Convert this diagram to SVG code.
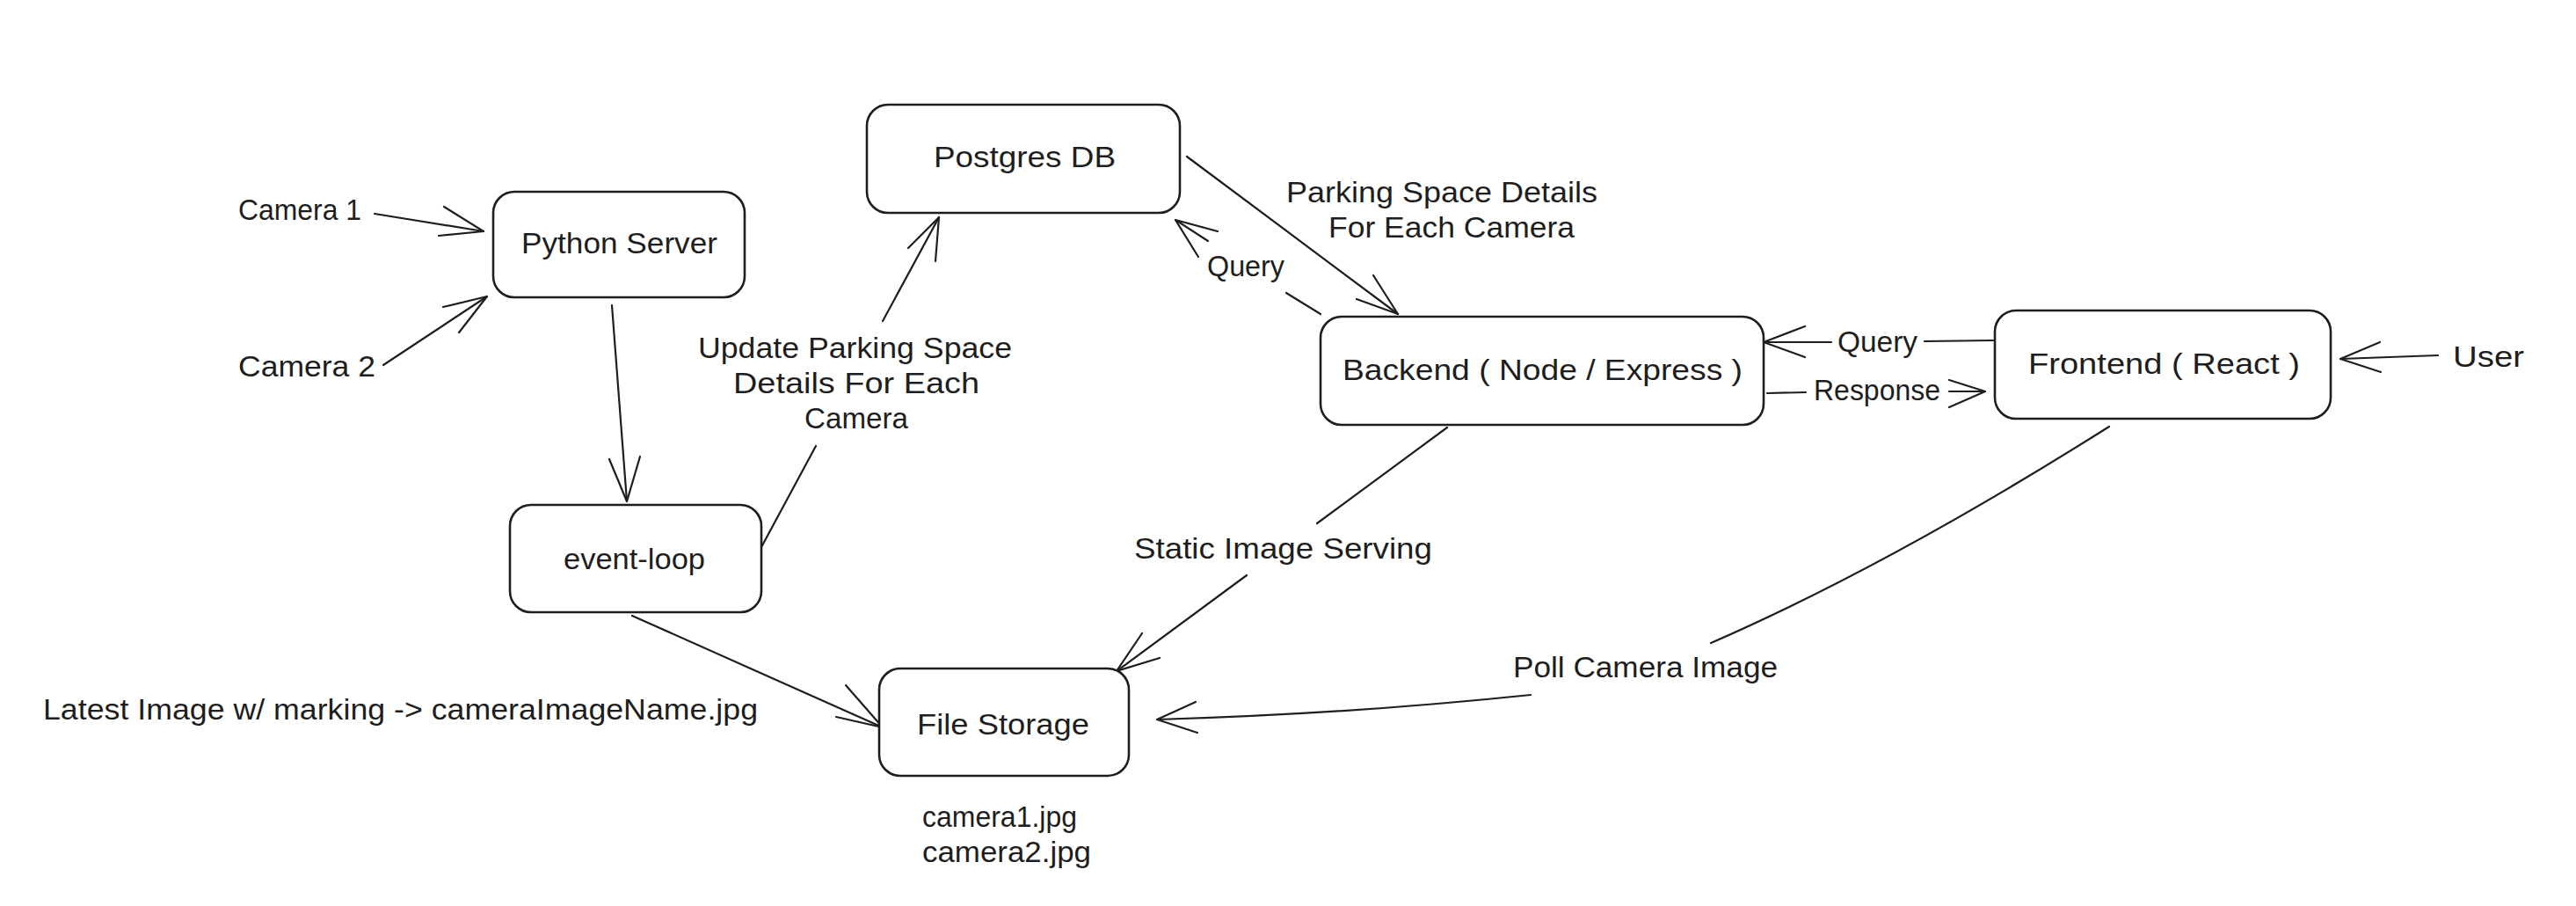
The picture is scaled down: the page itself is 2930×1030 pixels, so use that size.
<svg xmlns="http://www.w3.org/2000/svg" width="2930" height="1030" viewBox="0 0 2930 1030">
<style>
.bg{fill:#ffffff}
.node rect{fill:#ffffff;stroke:#1e1e1e;stroke-width:2.6}
text{font-family:"Liberation Sans",Arial,sans-serif;font-size:33px;fill:#1e1e1e}
.c path{fill:none;stroke:#1e1e1e;stroke-width:2.2;stroke-linecap:round;stroke-linejoin:round}
</style>
<rect class="bg" x="0" y="0" width="2930" height="1030"/>

<g id="connectors" class="c">
  <g id="cam1-python"><path d="M426,243 L550,263"/><path d="M505,235 L550,263 L499,268"/></g>
  <g id="cam2-python"><path d="M436,415 L554,337"/><path d="M504,349 L554,337 L522,378"/></g>
  <g id="python-eventloop"><path d="M696,347 L713,570"/><path d="M693,522 L713,570 L728,519"/></g>
  <g id="eventloop-postgres"><path d="M866,622 L928,507"/><path d="M1004,365 L1068,247"/><path d="M1033,282 L1068,247 L1064,297"/></g>
  <g id="postgres-backend"><path d="M1350,178 L1590,357"/><path d="M1562,313 L1590,357 L1543,340"/></g>
  <g id="backend-postgres"><path d="M1502,357 L1463,333"/><path d="M1363,292 L1337,250"/><path d="M1385,263 L1337,250 L1374,274"/></g>
  <g id="backend-filestorage"><path d="M1646,486 L1498,595"/><path d="M1418,654 L1270,763"/><path d="M1299,720 L1270,763 L1319,748"/></g>
  <g id="eventloop-filestorage"><path d="M719,700 L1004,827"/><path d="M962,779 L1004,827 L951,815"/></g>
  <g id="frontend-backend"><path d="M2267,387 L2189,388"/><path d="M2083,389 L2006,389"/><path d="M2053,371 L2006,389 L2053,406"/></g>
  <g id="backend-frontend"><path d="M2010,447 L2054,446"/><path d="M2217,445 L2258,445"/><path d="M2217,432 L2258,445 L2217,463"/></g>
  <g id="user-frontend"><path d="M2773,404 L2662,408"/><path d="M2707,389 L2662,408 L2708,423"/></g>
  <g id="frontend-filestorage"><path d="M2399,485 Q2150,642 1946,731"/><path d="M1741,790 Q1530,812 1316,818"/><path d="M1360,798 L1316,818 L1362,833"/></g>
</g>

<g id="connector-labels">
  <text x="271" y="250" textLength="140" lengthAdjust="spacingAndGlyphs">Camera 1</text>
  <text x="271" y="428" textLength="156" lengthAdjust="spacingAndGlyphs">Camera 2</text>
  <text x="794" y="407" textLength="357" lengthAdjust="spacingAndGlyphs">Update Parking Space</text>
  <text x="834" y="447" textLength="280" lengthAdjust="spacingAndGlyphs">Details For Each</text>
  <text x="915" y="487" textLength="118" lengthAdjust="spacingAndGlyphs">Camera</text>
  <text x="1463" y="230" textLength="354" lengthAdjust="spacingAndGlyphs">Parking Space Details</text>
  <text x="1511" y="270" textLength="280" lengthAdjust="spacingAndGlyphs">For Each Camera</text>
  <text x="1373" y="314" textLength="88" lengthAdjust="spacingAndGlyphs">Query</text>
  <text x="2090" y="400" textLength="91" lengthAdjust="spacingAndGlyphs">Query</text>
  <text x="2063" y="455" textLength="144" lengthAdjust="spacingAndGlyphs">Response</text>
  <text x="2790" y="417" textLength="81" lengthAdjust="spacingAndGlyphs">User</text>
  <text x="1290" y="635" textLength="339" lengthAdjust="spacingAndGlyphs">Static Image Serving</text>
  <text x="1721" y="770" textLength="301" lengthAdjust="spacingAndGlyphs">Poll Camera Image</text>
  <text x="49" y="818" textLength="813" lengthAdjust="spacingAndGlyphs">Latest Image w/ marking -&gt; cameraImageName.jpg</text>
  <text x="1049" y="940" textLength="176" lengthAdjust="spacingAndGlyphs">camera1.jpg</text>
  <text x="1049" y="980" textLength="192" lengthAdjust="spacingAndGlyphs">camera2.jpg</text>
</g>

<g id="postgres" class="node"><rect x="986" y="119" width="356" height="123" rx="24"/><text x="1062" y="190" textLength="207" lengthAdjust="spacingAndGlyphs">Postgres DB</text></g>
<g id="python-server" class="node"><rect x="561" y="218" width="286" height="120" rx="24"/><text x="593" y="288" textLength="223" lengthAdjust="spacingAndGlyphs">Python Server</text></g>
<g id="event-loop" class="node"><rect x="580" y="574" width="286" height="122" rx="24"/><text x="641" y="647" textLength="161" lengthAdjust="spacingAndGlyphs">event-loop</text></g>
<g id="backend" class="node"><rect x="1502" y="360" width="504" height="123" rx="24"/><text x="1527" y="432" textLength="455" lengthAdjust="spacingAndGlyphs">Backend ( Node / Express )</text></g>
<g id="frontend" class="node"><rect x="2269" y="353" width="382" height="123" rx="24"/><text x="2307" y="425" textLength="309" lengthAdjust="spacingAndGlyphs">Frontend ( React )</text></g>
<g id="file-storage" class="node"><rect x="1000" y="760" width="284" height="122" rx="24"/><text x="1043" y="835" textLength="196" lengthAdjust="spacingAndGlyphs">File Storage</text></g>
</svg>
